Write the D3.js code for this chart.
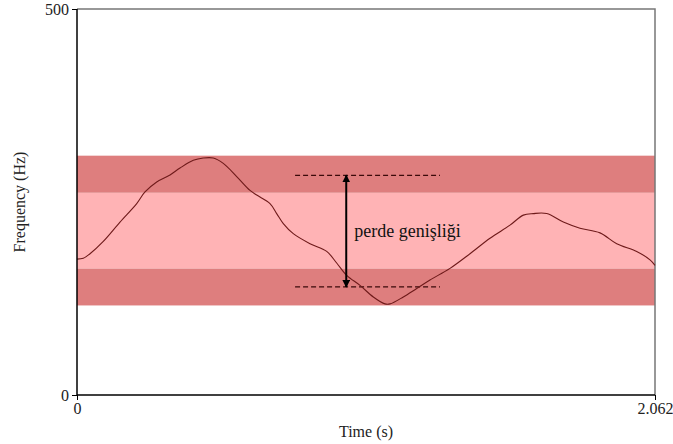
<!DOCTYPE html>
<html>
<head>
<meta charset="utf-8">
<script src="https://cdn.jsdelivr.net/npm/d3@7"></script>
<style>
  body { margin: 0; background: #fff; }
  svg text { font-family: "Liberation Serif", "DejaVu Serif", "Times New Roman", serif !important; fill: #222; }
</style>
</head>
<body>
<div id="chart"></div>
<script>
// pitch contour (time s, frequency Hz)
var times = [0, 0.0225, 0.0464, 0.0938, 0.1534, 0.2130, 0.2426, 0.2843, 0.3318, 0.3675,
             0.4149, 0.4506, 0.4863, 0.5219, 0.5697, 0.6172, 0.6411, 0.6885, 0.7124, 0.7360,
             0.7716, 0.8312, 0.8908, 0.9264, 0.9622, 1.0096, 1.0571, 1.0988, 1.1166, 1.1641,
             1.2119, 1.2593, 1.3307, 1.4020, 1.4734, 1.5447, 1.5922, 1.6279, 1.6756, 1.7349,
             1.7944, 1.8658, 1.9254, 1.9967, 2.0442, 2.062];
var freqs = [176, 177, 183, 199, 224, 248, 263, 276, 285, 294,
             304, 307, 307, 300, 283, 265, 259, 248, 235, 222,
             209, 196, 186, 171, 155, 142, 127, 118, 118, 127,
             138, 149, 164, 183, 203, 220, 233, 235, 235, 224,
             216, 210, 196, 186, 175, 168];

// bands
var bandLow = [116, 164, 262];
var bandHigh = [164, 262, 310];
var bandKind = ["dark", "pale", "dark"];

// dashed reference lines and arrow
var refFreqs = [284.6, 140];
var refStart = 0.778, refEnd = 1.295;
var arrowTime = 0.9605;
var arrowLabel = "perde genişliği";

var xDomain = [0, 2.062];
var yDomain = [0, 500];

var serif = "'Liberation Serif', 'DejaVu Serif', serif";

var margin = {left: 77, right: 18, top: 9, bottom: 49};
var width = 673 - margin.left - margin.right;
var height = 444 - margin.top - margin.bottom;

var x = d3.scaleLinear().domain(xDomain).range([0, width]);
var y = d3.scaleLinear().domain(yDomain).range([height, 0]);

var svg = d3.select("#chart")
    .append("svg")
    .attr("width", 673)
    .attr("height", 444)
    .attr("font-family", serif)
    .append("g")
    .attr("transform", "translate(" + margin.left + "," + margin.top + ")");

svg.append("defs").append("marker")
    .attr("id", "arr")
    .attr("viewBox", "0 0 10 10")
    .attr("refX", 9).attr("refY", 5)
    .attr("markerWidth", 4).attr("markerHeight", 4)
    .attr("orient", "auto-start-reverse")
    .append("path")
    .attr("d", "M0,0L10,5L0,10z")
    .attr("fill", "#000");

// bands
svg.selectAll(".band")
    .data(bandLow)
    .enter().append("rect")
    .attr("class", "band")
    .attr("x", 0)
    .attr("width", width)
    .attr("y", function(d, i) { return y(bandHigh[i]); })
    .attr("height", function(d, i) { return y(d) - y(bandHigh[i]); })
    .attr("fill", function(d, i) { return bandKind[i] == "dark" ? "#de7e7e" : "#ffb3b5"; });

// top / right frame
svg.append("path")
    .attr("d", "M0,0H" + width + "V" + height)
    .attr("fill", "none")
    .attr("stroke", "#777")
    .attr("stroke-width", 1.5);

// dashed lines
svg.selectAll(".ref")
    .data(refFreqs)
    .enter().append("line")
    .attr("class", "ref")
    .attr("x1", x(refStart)).attr("x2", x(refEnd))
    .attr("y1", function(d) { return y(d); })
    .attr("y2", function(d) { return y(d); })
    .attr("stroke", "#3a0a0a")
    .attr("stroke-width", 1.2)
    .attr("stroke-dasharray", "5,3");

// contour
var line = d3.line()
    .x(function(d, i) { return x(times[i]); })
    .y(function(d) { return y(d); })
    .curve(d3.curveCatmullRom);

svg.append("path")
    .datum(freqs)
    .attr("d", line)
    .attr("fill", "none")
    .attr("stroke", "#6e1a1a")
    .attr("stroke-width", 1.1);

// arrow
svg.append("line")
    .attr("x1", x(arrowTime)).attr("x2", x(arrowTime))
    .attr("y1", y(refFreqs[0])).attr("y2", y(refFreqs[1]))
    .attr("stroke", "#000")
    .attr("stroke-width", 2)
    .attr("marker-start", "url(#arr)")
    .attr("marker-end", "url(#arr)");

svg.append("text")
    .attr("x", x(arrowTime) + 8)
    .attr("y", y(212) + 6)
    .attr("font-family", serif)
    .style("font-size", "18px")
    .style("fill", "#111")
    .text(arrowLabel);

// axes
var xAxis = d3.axisBottom(x).tickValues(xDomain).tickSize(5).tickFormat(function(d) { return d == 0 ? "0" : d3.format(".3f")(d); });
var yAxis = d3.axisLeft(y).tickValues(yDomain).tickSize(5);

var gx = svg.append("g")
    .attr("transform", "translate(0," + height + ")")
    .call(xAxis);
var gy = svg.append("g").call(yAxis);

[gx, gy].forEach(function(g) {
    g.attr("font-family", serif).attr("font-size", 16);
    g.select(".domain").attr("stroke", "#000").attr("stroke-width", 1.5);
    g.selectAll(".tick line").attr("stroke", "#000");
    g.selectAll(".tick text").attr("fill", "#222");
});
gx.select(".domain").attr("d", "M0,0H" + width);
gy.select(".domain").attr("d", "M0," + height + "V0");

svg.append("text")
    .attr("x", width / 2)
    .attr("y", height + 42)
    .attr("font-family", serif)
    .style("text-anchor", "middle")
    .style("font-size", "16px")
    .text("Time (s)");

svg.append("text")
    .attr("transform", "rotate(-90)")
    .attr("x", -height / 2)
    .attr("y", -52)
    .attr("font-family", serif)
    .style("text-anchor", "middle")
    .style("font-size", "16px")
    .text("Frequency (Hz)");
</script>
</body>
</html>
